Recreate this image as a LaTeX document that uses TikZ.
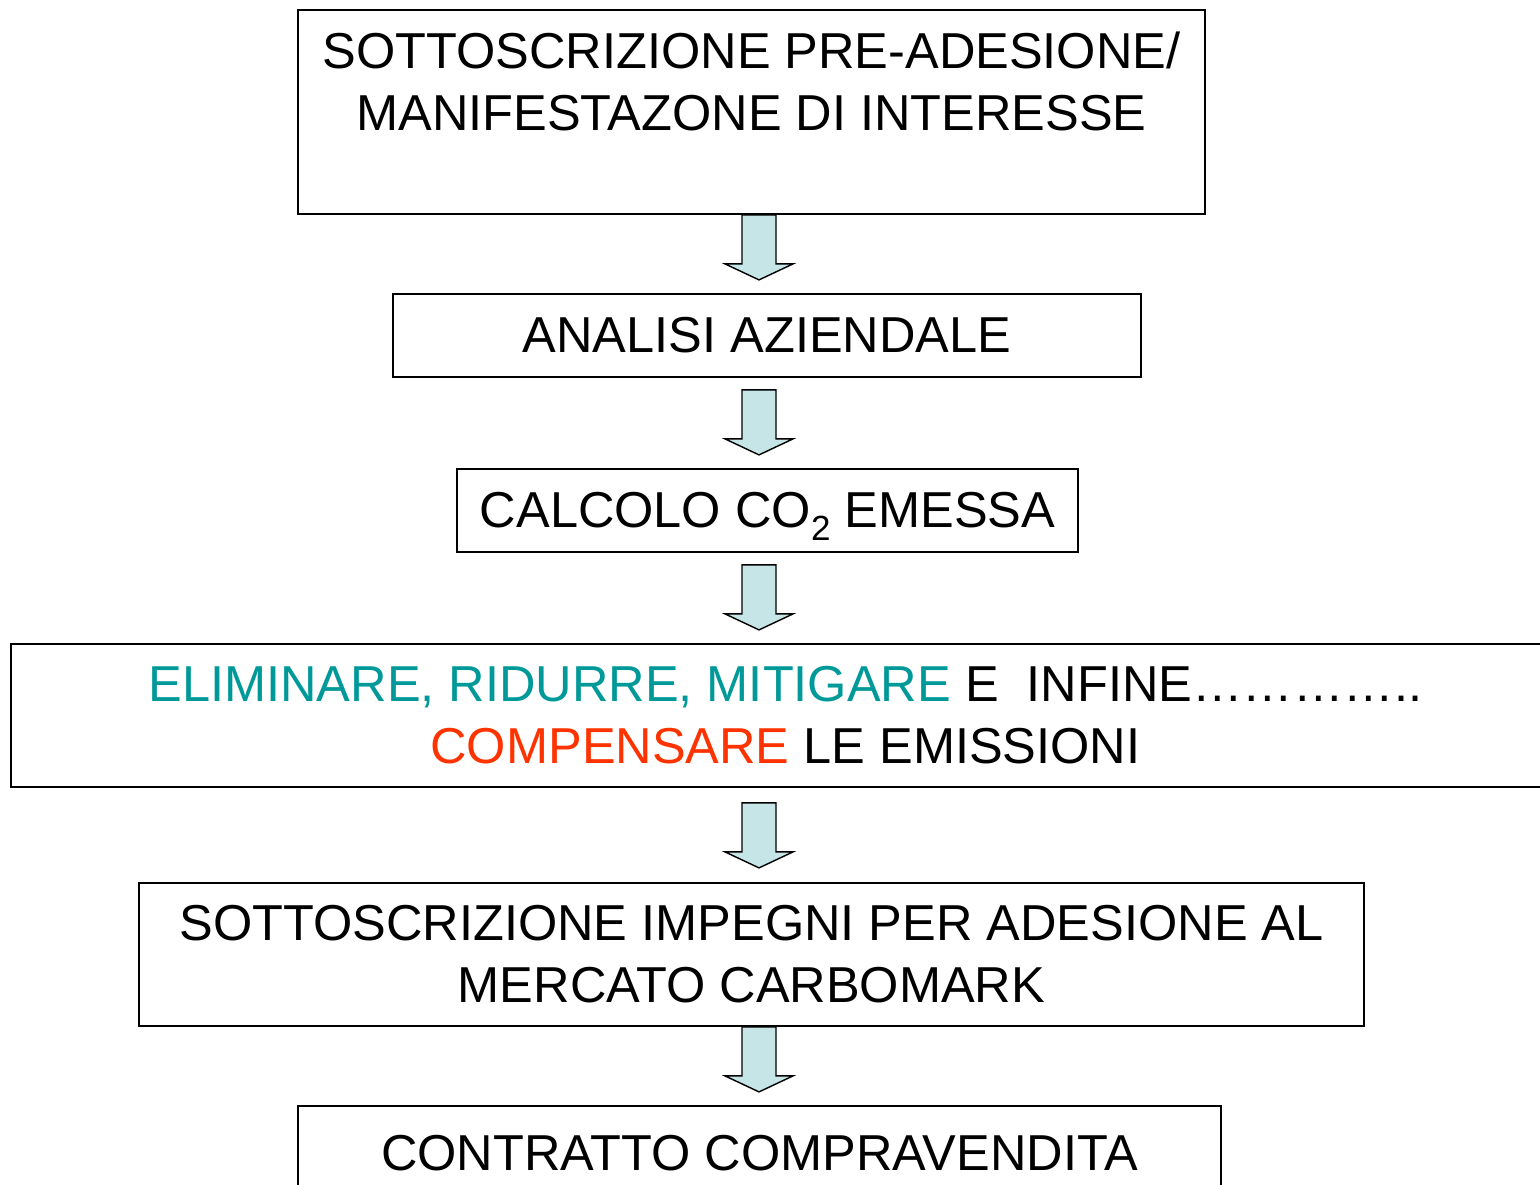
\documentclass[tikz,border=0pt]{standalone}
\usepackage{fontspec}
\setmainfont{Liberation Sans}
\usetikzlibrary{calc}
\definecolor{tealtxt}{HTML}{009999}
\definecolor{redtxt}{HTML}{FF3300}
\definecolor{arrowcyan}{HTML}{C6E5E7}
\newcommand{\lowsub}[1]{\smash{\raisebox{-13pt}{\fontsize{35}{35}\selectfont #1}}}
\tikzset{
	stepbox/.style={draw, line width=1.8pt, inner sep=0pt, align=center,
		font=\fontsize{50.5}{62}\selectfont},
	pics/flowarrow/.style={code={
		\draw[line width=1.4pt, fill=arrowcyan, line join=miter]
		(-17,0) -- (-17,49) -- (-34,49) -- (0,65) -- (34,49) -- (17,49) -- (17,0) -- cycle;
	}},
}

\begin{document}
\begin{tikzpicture}[x=1pt,y=-1pt]
\useasboundingbox (0,0) rectangle (1540,1185);
\fill[white] (0,0) rectangle (1540,1185);
\node[stepbox, minimum width=907, minimum height=204] (b1) at (751.5,112)
	{SOTTOSCRIZIONE PRE-ADESIONE/\\MANIFESTAZONE DI INTERESSE\\\mbox{}};
\node[stepbox, minimum width=748, minimum height=83] (b2) at (767,335.5)
	{ANALISI AZIENDALE};
\node[stepbox, minimum width=621, minimum height=83] (b3) at (767.5,510.5)
	{CALCOLO CO\lowsub{2} EMESSA};
\node[stepbox, minimum width=1549, minimum height=143] (b4) at (785.5,715.5)
	{\textcolor{tealtxt}{ELIMINARE, RIDURRE, MITIGARE} E \ INFINE…………..\\
	 \textcolor{redtxt}{COMPENSARE} LE EMISSIONI};
\node[stepbox, minimum width=1225, minimum height=143] (b5) at (751.5,954.5)
	{SOTTOSCRIZIONE IMPEGNI PER ADESIONE AL\\MERCATO CARBOMARK};
\node[stepbox, minimum width=923, minimum height=94] (b6) at (759.5,1153)
	{CONTRATTO COMPRAVENDITA};
% block arrows
\coordinate (ax) at (759,0);
\pic at (b1.south -| ax) {flowarrow};
\pic at ([yshift=-12pt]b2.south -| ax) {flowarrow};
\pic at ([yshift=-12pt]b3.south -| ax) {flowarrow};
\pic at ([yshift=-15pt]b4.south -| ax) {flowarrow};
\pic at (b5.south -| ax) {flowarrow};
\end{tikzpicture}
\end{document}
